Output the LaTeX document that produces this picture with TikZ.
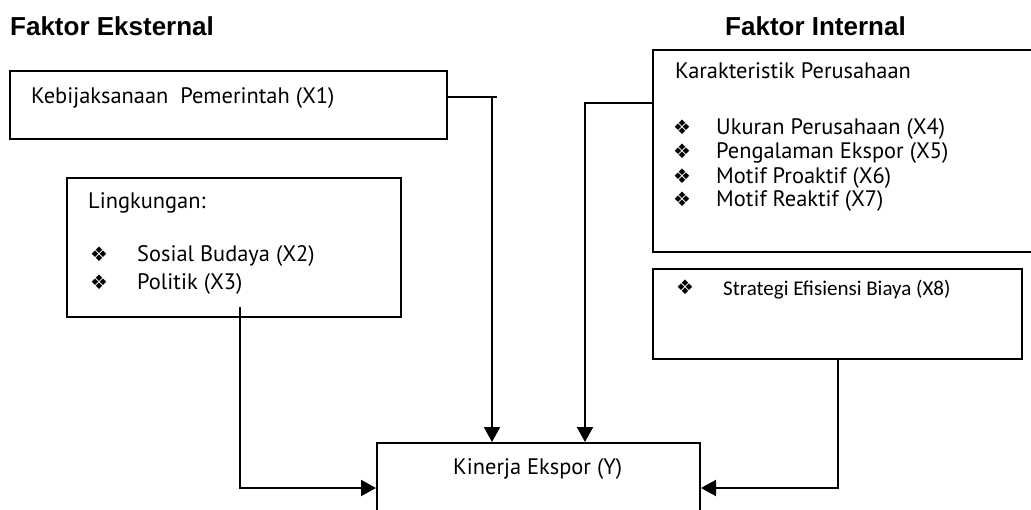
\documentclass[tikz,border=0pt]{standalone}
\usepackage{fontspec}
\setmainfont{PT Sans}
\newfontfamily\headfont{Liberation Sans}
\newfontfamily\bulletfont{DejaVu Sans}
\newfontfamily\calfont{Carlito}
\usetikzlibrary{arrows.meta}
\newcommand{\bul}{{\bulletfont\fontsize{20}{20}\selectfont\char"2756}}

\begin{document}
\begin{tikzpicture}[x=1pt,y=-1pt,
    box/.style={draw,line width=2pt,inner sep=0pt},
    txt/.style={anchor=base west,inner sep=0pt,font=\fontsize{22.4}{24}\selectfont},
    head/.style={anchor=base west,inner sep=0pt,font=\headfont\bfseries\fontsize{26}{30}\selectfont},
    conn/.style={line width=2pt},
    arr/.style={conn,-{Triangle[length=15pt,width=16pt]}}]
        \useasboundingbox (0,0) rectangle (1031,509);
        \clip (0,0) rectangle (1031,509);
        % headings
        \node[head] (ekst) at (10,35) {Faktor Eksternal};
        \node[head] (inte) at (725,35) {Faktor Internal};
        % boxes
        \node[box,minimum width=437pt,minimum height=68pt] (kebijakan) at (228.5,105) {};
        \node[box,minimum width=334pt,minimum height=139pt] (lingkungan) at (234,247.5) {};
        \node[box,minimum width=420pt,minimum height=202pt] (karakter) at (863,151) {};
        \node[box,minimum width=369pt,minimum height=90pt] (strategi) at (837.5,314) {};
        \node[box,minimum width=323pt,minimum height=90pt] (kinerja) at (538.5,488) {};
        % texts
        \node[txt] (t1) at (31,103) {Kebijaksanaan\ \ Pemerintah (X1)};
        \node[txt] (t2) at (88,208) {Lingkungan:};
        \node[txt] (b2) at (90,261) {\bul};
        \node[txt] (t3) at (137,261) {Sosial Budaya (X2)};
        \node[txt] (b3) at (90,289) {\bul};
        \node[txt] (t4) at (137,289) {Politik (X3)};
        \node[txt] (t5) at (675,78) {Karakteristik Perusahaan};
        \node[txt] (b5) at (673,134) {\bul};
        \node[txt] (t6) at (716,134) {Ukuran Perusahaan (X4)};
        \node[txt] (b6) at (673,158) {\bul};
        \node[txt] (t7) at (716,158) {Pengalaman Ekspor (X5)};
        \node[txt] (b7) at (673,183) {\bul};
        \node[txt] (t8) at (716,183) {Motif Proaktif (X6)};
        \node[txt] (b8) at (673,206) {\bul};
        \node[txt] (t9) at (716,206) {Motif Reaktif (X7)};
        \node[txt] (b9) at (676,294) {\bul};
        \node[txt,font=\calfont\fontsize{21}{22}\selectfont] (t10) at (723,295) {Strategi Efisiensi Biaya (X8)};
        \node[txt] (t11) at (453,474) {Kinerja Ekspor (Y)};
        % connectors
        \coordinate (p1) at (492,97);
        \coordinate (p2) at (585,103);
        \coordinate (p3) at (240,307);
        \draw[conn] (kebijakan.east |- p1) -- ([xshift=5pt]p1);
        \draw[arr] (p1) -- (p1 |- kinerja.north);
        \draw[arr] (karakter.west |- p2) -- (p2) -- (p2 |- kinerja.north);
        \draw[arr] (p3) -- (p3 |- kinerja.west) -- (kinerja.west);
        \draw[arr] (strategi.south) -- (strategi.south |- kinerja.east) -- (kinerja.east);
\end{tikzpicture}
\end{document}
